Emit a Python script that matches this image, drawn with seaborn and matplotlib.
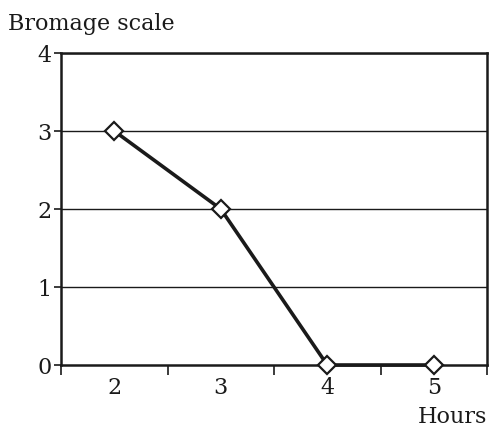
"""
Bromage scale vs hours line chart.
"""
import matplotlib
matplotlib.use('Agg')
import matplotlib.pyplot as plt
import seaborn as sns
import pandas as pd

hours = [2, 3, 4, 5]
bromage = [3, 2, 0, 0]
y_ticks = [0, 1, 2, 3, 4]

sns.set_style('white')
plt.rcParams['font.family'] = ['DejaVu Serif']

df = pd.DataFrame({'Hours': hours, 'Bromage': bromage})

fig = plt.figure(figsize=(4.9, 4.37), dpi=100)
ax = fig.add_axes([61 / 490, 72 / 437, 426 / 490, 312 / 437])

sns.lineplot(data=df, x='Hours', y='Bromage', ax=ax, color='#1a1a1a',
             linewidth=2.6, marker='D', markersize=9.5,
             markerfacecolor='white', markeredgecolor='#1a1a1a',
             markeredgewidth=1.6, zorder=3, clip_on=False)

ax.set_xlim(1.5, 5.5)
ax.set_ylim(0, 4)
ax.set_yticks(y_ticks)
ax.set_xticks(hours)
ax.set_xticks([1.5, 2.5, 3.5, 4.5, 5.5], minor=True)
ax.tick_params(axis='x', which='major', length=0, labelsize=16, pad=9,
               colors='#1a1a1a')
ax.tick_params(axis='x', which='minor', length=7, width=1.2, direction='out',
               color='#1a1a1a', bottom=True)
ax.tick_params(axis='y', length=5, width=1.2, direction='out', labelsize=16,
               pad=2, colors='#1a1a1a', left=True)

for y in y_ticks[1:]:
    ax.axhline(y, color='#1a1a1a', linewidth=1, zorder=1)

for side in ['left', 'right', 'top', 'bottom']:
    ax.spines[side].set_color('#1a1a1a')
    ax.spines[side].set_linewidth(1.8)

ax.set_xlabel('')
ax.set_ylabel('')
fig.text(8 / 490, 1 - 30 / 437, 'Bromage scale', fontsize=16,
         color='#1a1a1a', ha='left', va='baseline')
fig.text(487 / 490, 1 - 423 / 437, 'Hours', fontsize=16,
         color='#1a1a1a', ha='right', va='baseline')

fig.savefig('out.png', dpi=100)
